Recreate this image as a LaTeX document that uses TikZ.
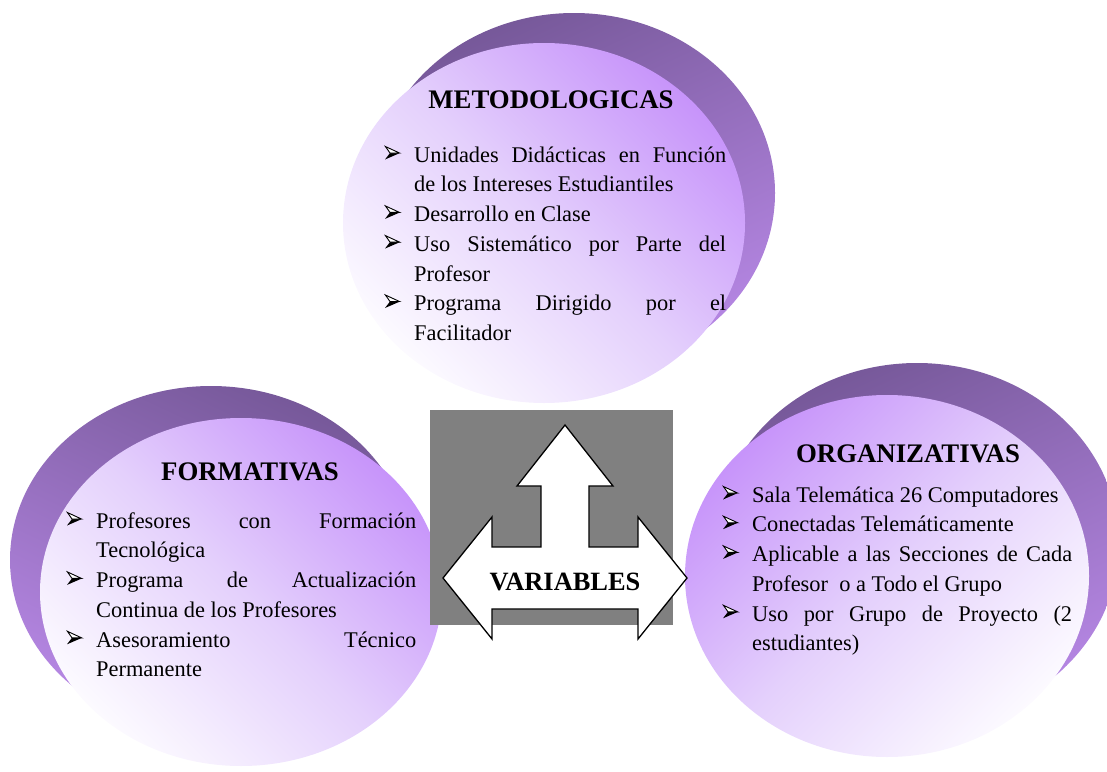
\documentclass[tikz,border=0pt]{standalone}
\usepackage{fontspec}
\setmainfont{Liberation Serif}
\definecolor{fpurple}{HTML}{C794FA}
\definecolor{fmid}{HTML}{E4D0FC}
\definecolor{flight}{HTML}{FCFAFF}
\definecolor{sdark}{HTML}{765899}
\definecolor{slight}{HTML}{B687E4}
\definecolor{gbox}{HTML}{808080}
\newlength\bw \setlength\bw{29pt}
\newcommand\bul{\hspace*{\bw}}
\newcommand\jl[2]{\makebox[#1][s]{#2}}
\newcommand\ind{\hspace*{\bw}}
\newcommand\firstline{\rule{0pt}{20pt}}
\begin{document}
\begin{tikzpicture}[x=1pt,y=-1pt,
  body/.style={anchor=north west, inner sep=0pt, align=left, font=\fontsize{22.4}{29.7}\selectfont},
  title/.style={anchor=base, inner sep=0pt, font=\fontsize{26.8}{30}\selectfont\bfseries},
  shadowdisc/.style={top color=sdark, bottom color=slight},
  frontdisc/.style={top color=fpurple, bottom color=flight, middle color=fmid},
  bulletarrow/.pic={
    \fill[black] (0,-2.5) -- (15,-9) -- (5,-9) -- cycle;
    \filldraw[fill=white, draw=black, line width=0.9pt, line join=miter] (0.4,-15.5) -- (14.5,-9) -- (5,-9) -- cycle;
  },
]
\useasboundingbox (0,0) rectangle (1107,771);
% shadows
\shade[shadowdisc, shading angle=25] (574,193) ellipse [x radius=201, y radius=180];
\shade[shadowdisc, shading angle=-25] (211,560) ellipse [x radius=201, y radius=174];
\shade[shadowdisc, shading angle=25] (917,544) ellipse [x radius=202, y radius=181];
% fronts
\shade[frontdisc, shading angle=-45] (544,223) ellipse [x radius=201, y radius=180];
\shade[frontdisc, shading angle=-45] (241,592) ellipse [x radius=201, y radius=174];
\shade[frontdisc, shading angle=45] (887,576) ellipse [x radius=202, y radius=181];
% centre box and arrow
\fill[gbox] (430,410) rectangle (673,625);
\draw[line width=1.3pt, fill=white, line join=miter]
  (565,425) -- (613,486) -- (589,486) -- (589,547) -- (638,547) -- (638,517)
  -- (687,578) -- (638,639) -- (638,609) -- (492,609) -- (492,639) -- (443,578)
  -- (492,517) -- (492,547) -- (541,547) -- (541,486) -- (517,486) -- cycle;
\node[title, font=\fontsize{26.4}{30}\selectfont\bfseries] (var) at (565,590) {VARIABLES};
% titles
\node[title] (tmet) at (551,108) {METODOLOGICAS};
\node[title] (tfor) at (250,480) {FORMATIVAS};
\node[title] (torg) at (908,462) {ORGANIZATIVAS};
% bodies
\node[body] (bmet) at (385,142) {\firstline\bul\jl{312pt}{Unidades Didácticas en Función}\\
\ind de los Intereses Estudiantiles\\
\bul Desarrollo en Clase\\
\bul\jl{312pt}{Uso Sistemático por Parte del}\\
\ind Profesor\\
\bul\jl{312pt}{Programa Dirigido por el}\\
\ind Facilitador};
\node[body] (bfor) at (67,508) {\firstline\bul\jl{320pt}{Profesores con Formación}\\
\ind Tecnológica\\
\bul\jl{320pt}{Programa de Actualización}\\
\ind Continua de los Profesores\\
\bul\jl{320pt}{Asesoramiento Técnico}\\
\ind Permanente};
\node[body] (borg) at (723,482) {\firstline\bul Sala Telemática 26 Computadores\\
\bul Conectadas Telemáticamente\\
\bul\jl{320pt}{Aplicable a las Secciones de Cada}\\
\ind Profesor\ \ o a Todo el Grupo\\
\bul\jl{320pt}{Uso por Grupo de Proyecto (2}\\
\ind estudiantes)};
% bullets
\foreach \y in {162,221.4,251.1,310.5} \pic at (385,\y) {bulletarrow};
\foreach \y in {528,587.4,646.8} \pic at (67,\y) {bulletarrow};
\foreach \y in {502,531.7,561.4,620.8} \pic at (723,\y) {bulletarrow};
\end{tikzpicture}
\end{document}
